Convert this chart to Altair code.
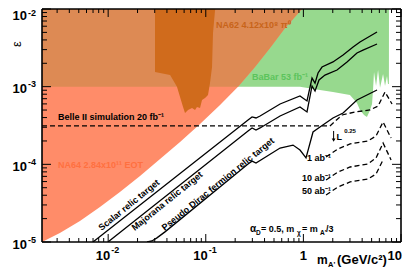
import altair as alt
import pandas as pd

X_MIN, X_MAX = 0.0021, 10.0
Y_MIN, Y_MAX = 1e-5, 1e-2
W, H = 359, 233

# ---------------- data ----------------
na64_m = [0.0021, 0.0032, 0.00514, 0.00824, 0.0132, 0.0212, 0.0340, 0.0545, 0.0873, 0.140, 0.214, 0.319, 0.455, 0.649, 0.968]
na64_eps = [1.0e-5, 1.31e-5, 1.86e-5, 2.82e-5, 4.41e-5, 7.08e-5, 1.17e-4, 1.94e-4, 3.31e-4, 5.81e-4, 1.0e-3, 1.79e-3, 3.15e-3, 5.69e-3, 1.0e-2]

na62_m = [0.0302, 0.0340, 0.0431, 0.0507, 0.0545, 0.0585, 0.0613, 0.0658, 0.0723, 0.0776, 0.0813, 0.0873, 0.0915, 0.0982, 0.1054, 0.1104, 0.1159, 0.1186, 0.1245]
na62_eps = [1.55e-3, 1.50e-3, 1.41e-3, 1.0e-3, 7.36e-4, 5.47e-4, 4.58e-4, 5.01e-4, 5.31e-4, 5.01e-4, 5.47e-4, 5.31e-4, 6.73e-4, 7.14e-4, 7.81e-4, 1.11e-3, 1.79e-3, 4.91e-3, 9.7e-3]

babar_m = [0.0021, 0.923, 1.479, 2.01, 3.00, 3.54, 3.80, 4.18, 4.48, 4.82, 5.05, 5.17, 5.29, 5.55, 5.82, 6.10, 6.55, 6.86, 7.19, 7.36, 7.52, 7.53]
babar_eps = [1e-3, 1e-3, 9.06e-4, 8.53e-4, 7.81e-4, 6.17e-4, 5.01e-4, 4.32e-4, 4.07e-4, 5.01e-4, 5.98e-4, 9.06e-4, 1.55e-3, 1.02e-3, 1.64e-3, 9.7e-4, 1.46e-3, 1.02e-3, 1.37e-3, 1.08e-3, 1.08e-3, 1e-2]

scalar_m = [0.00699, 0.271, 0.298, 0.327, 0.360, 0.577, 0.923, 1.089, 1.226, 1.316, 1.413, 1.552, 2.01, 2.55, 3.23, 3.80, 5.68]
scalar_eps = [1e-5, 3.73e-4, 4.07e-4, 3.95e-4, 4.19e-4, 5.98e-4, 7.59e-4, 6.54e-4, 1.29e-3, 1.11e-3, 1.50e-3, 1.79e-3, 2.08e-3, 2.56e-3, 3.24e-3, 3.76e-3, 5.06e-3]

major_m = [0.00995, 0.271, 0.298, 0.327, 0.360, 0.577, 0.923, 1.089, 1.226, 1.316, 1.446, 1.665, 2.21, 2.80, 3.54, 4.08, 5.68]
major_eps = [1e-5, 2.69e-4, 2.94e-4, 2.77e-4, 2.94e-4, 4.19e-4, 5.47e-4, 4.72e-4, 1.02e-3, 8.79e-4, 1.22e-3, 1.41e-3, 1.64e-3, 2.08e-3, 2.71e-3, 2.96e-3, 3.54e-3]

pdirac_m = [0.0250, 0.0281, 0.0316, 0.0382, 0.271, 0.298, 0.327, 0.577, 0.783, 0.923, 1.064, 1.255, 1.479, 2.01, 2.55, 3.54, 5.68]
pdirac_eps = [1e-5, 1.03e-5, 1.13e-5, 1.35e-5, 1.01e-4, 1.10e-4, 1.04e-4, 1.62e-4, 1.77e-4, 1.53e-4, 1.21e-4, 2.61e-4, 3.03e-4, 3.95e-4, 4.58e-4, 6.73e-4, 9.06e-4]

belle20_m = [0.0021, 1.87, 2.49, 3.38, 4.82, 5.82, 6.86, 8.09]
belle20_eps = [3.12e-4, 3.12e-4, 4.32e-4, 4.72e-4, 5.01e-4, 5.64e-4, 8.53e-4, 5.98e-4]

proj_m = [1.706, 2.26, 3.01, 4.59, 5.55, 6.55, 7.91]
ab1_eps = [1.24e-4, 1.58e-4, 1.83e-4, 2.00e-4, 2.32e-4, 3.51e-4, 2.18e-4]
ab10_eps = [6.28e-5, 7.96e-5, 9.24e-5, 1.01e-4, 1.21e-4, 1.88e-4, 1.14e-4]
ab50_m = [1.706, 2.26, 3.01, 4.59, 5.55, 6.55]
ab50_eps = [4.03e-5, 5.11e-5, 5.93e-5, 6.48e-5, 7.52e-5, 1.14e-4]

x_major = [0.01, 0.1, 1.0, 10.0]
x_minor = [k * 10.0 ** e for e in (-3, -2, -1, 0) for k in range(2, 10) if X_MIN < k * 10.0 ** e < X_MAX]
y_major = [1e-5, 1e-4, 1e-3, 1e-2]
y_minor = [k * 10.0 ** e for e in (-5, -4, -3) for k in range(2, 10)]

# ---------------- colours ----------------
C_SALMON = "#FF8C69"
C_BROWN = "#DD8A54"
C_SPIKE = "#D06B1C"
C_GREEN = "#97D98E"

xs = alt.Scale(type="log", domain=[X_MIN, X_MAX], nice=False)
ys = alt.Scale(type="log", domain=[Y_MIN, Y_MAX], nice=False)
FONT = "Liberation Sans"


def X(f="m"):
    return alt.X(f"{f}:Q", scale=xs, axis=None)


def Y(f="eps"):
    return alt.Y(f"{f}:Q", scale=ys, axis=None)


def area(m, lo, color):
    df = pd.DataFrame({"m": m, "eps": lo, "top": [Y_MAX] * len(m)})
    return alt.Chart(df).mark_area(color=color, clip=True, opacity=1).encode(
        x=X(), y=Y(), y2="top:Q")


def lines(series, dash=None):
    rows = []
    for name, ms, es in series:
        for i, (a, b) in enumerate(zip(ms, es)):
            rows.append({"s": name, "m": a, "eps": b, "i": i})
    kw = dict(color="black", strokeWidth=1.3, clip=True)
    if dash:
        kw["strokeDash"] = dash
    return alt.Chart(pd.DataFrame(rows)).mark_line(**kw).encode(
        x=X(), y=Y(), detail="s:N", order="i:Q")


layers = []
layers.append(area(babar_m, babar_eps, C_GREEN))
layers.append(area(na64_m, na64_eps, C_SALMON))
layers.append(area(na64_m, [max(e, 1e-3) for e in na64_eps], C_BROWN))
layers.append(area(na62_m, na62_eps, C_SPIKE))

layers.append(lines([("scalar", scalar_m, scalar_eps),
                     ("majorana", major_m, major_eps),
                     ("pdirac", pdirac_m, pdirac_eps)]))
layers.append(lines([("b20", belle20_m, belle20_eps),
                     ("ab1", proj_m, ab1_eps),
                     ("ab10", proj_m, ab10_eps),
                     ("ab50", ab50_m, ab50_eps)], dash=[5, 3]))

# ---------------- annotations in data coordinates ----------------
ann = pd.DataFrame([
    {"m": 0.00306, "eps": 4.07e-4, "t": "Belle II simulation 20 fb\u207b\u00b9", "c": "black", "al": "left"},
    {"m": 0.00306, "eps": 9.7e-5, "t": "NA64 2.84x10\u00b9\u00b9 EOT", "c": "#FF7040", "al": "left"},
    {"m": 0.127, "eps": 6.3e-3, "t": "NA62 4.12x10\u2078 \u03c0\u2070", "c": "#C8641A", "al": "left"},
    {"m": 0.298, "eps": 1.33e-3, "t": "BaBar 53 fb\u207b\u00b9", "c": "#5CC45C", "al": "left"},
    {"m": 1.92, "eps": 1.19e-4, "t": "1 ab\u207b\u00b9", "c": "black", "al": "right"},
    {"m": 1.92, "eps": 6.58e-5, "t": "10 ab\u207b\u00b9", "c": "black", "al": "right"},
    {"m": 1.92, "eps": 4.47e-5, "t": "50 ab\u207b\u00b9", "c": "black", "al": "right"},
])
for al in ("left", "right"):
    sub = ann[ann.al == al]
    layers.append(alt.Chart(sub).mark_text(align=al, baseline="middle", font=FONT, fontSize=9,
                                           fontWeight="bold").encode(
        x=X(), y=Y(), text="t:N", color=alt.Color("c:N", scale=None)))

rot = pd.DataFrame([
    {"m": 0.01633, "eps": 3.0e-5, "t": "Scalar relic target"},
    {"m": 0.0401, "eps": 3.37e-5, "t": "Majorana relic target"},
    {"m": 0.133, "eps": 5.58e-5, "t": "Pseudo Dirac fermion relic target"},
])
layers.append(alt.Chart(rot).mark_text(align="center", baseline="middle", angle=321, font=FONT,
                                       fontSize=9, fontWeight="bold", color="black").encode(
    x=X(), y=Y(), text="t:N"))

# L^0.25 arrow and label
arrow = pd.DataFrame({"m": [2.04], "e1": [2.69e-4], "e2": [2.05e-4]})
layers.append(alt.Chart(arrow).mark_rule(color="black", strokeWidth=1).encode(x=X(), y=Y("e1"), y2="e2:Q"))
layers.append(alt.Chart(arrow).mark_point(shape="triangle-down", size=14, filled=True, color="black",
                                          opacity=1).encode(x=X(), y=Y("e2")))
lum = pd.DataFrame([
    {"m": 2.19, "eps": 2.27e-4, "t": "L", "fs": 9},
    {"m": 2.62, "eps": 2.68e-4, "t": "0.25", "fs": 6},
])
layers.append(alt.Chart(lum).mark_text(align="left", baseline="middle", font=FONT, fontWeight="bold",
                                       color="black").encode(
    x=X(), y=Y(), text="t:N", size=alt.Size("fs:Q", scale=None)))

# alpha_D annotation (pixel layout)
alpha = pd.DataFrame([
    {"x": 208, "y": 223, "t": "\u03b1", "fs": 10},
    {"x": 214, "y": 226, "t": "D", "fs": 6.5},
    {"x": 219, "y": 223, "t": "= 0.5, m", "fs": 9},
    {"x": 255, "y": 226, "t": "\u03c7", "fs": 6.5},
    {"x": 260, "y": 223, "t": "= m", "fs": 9},
    {"x": 278, "y": 226, "t": "A'", "fs": 6.5},
    {"x": 284, "y": 223, "t": "/3", "fs": 9},
])
layers.append(alt.Chart(alpha).mark_text(align="left", baseline="alphabetic", font=FONT, fontWeight="bold",
                                         color="black").encode(
    x=alt.X("x:Q", scale=None), y=alt.Y("y:Q", scale=None), text="t:N", size=alt.Size("fs:Q", scale=None)))


# ---------------- ticks (inward, all four sides) ----------------
def xticks(vals, L):
    df = pd.DataFrame({"v": vals})
    b = alt.Chart(df).mark_rule(color="black", strokeWidth=1)
    return [b.encode(x=X("v"), y=alt.value(H), y2=alt.value(H - L)),
            b.encode(x=X("v"), y=alt.value(0), y2=alt.value(L))]


def yticks(vals, L):
    df = pd.DataFrame({"v": vals})
    b = alt.Chart(df).mark_rule(color="black", strokeWidth=1)
    return [b.encode(y=Y("v"), x=alt.value(0), x2=alt.value(L)),
            b.encode(y=Y("v"), x=alt.value(W), x2=alt.value(W - L))]


layers += xticks(x_major, 8) + xticks(x_minor, 4) + yticks(y_major, 9) + yticks(y_minor, 5)

# frame
frame = pd.DataFrame({"k": [0]})
fb = alt.Chart(frame).mark_rule(color="black", strokeWidth=1.6)
layers += [fb.encode(x=alt.value(0), x2=alt.value(W), y=alt.value(0)),
           fb.encode(x=alt.value(0), x2=alt.value(W), y=alt.value(H)),
           fb.encode(y=alt.value(0), y2=alt.value(H), x=alt.value(0)),
           fb.encode(y=alt.value(0), y2=alt.value(H), x=alt.value(W))]

# ---------------- tick labels ----------------
ylab = pd.DataFrame({"v": y_major, "base": ["10"] * 4, "exp": ["-5", "-4", "-3", "-2"]})
ylab_lo = ylab[ylab.v < 5e-3]
ylab_top = ylab[ylab.v > 5e-3]
for df, dyb, dye in ((ylab_lo, 2.5, -2.5), (ylab_top, 7, 3.5)):
    layers.append(alt.Chart(df).mark_text(align="right", baseline="middle", font=FONT, fontSize=13,
                                          fontWeight="bold", dy=dyb).encode(
        y=Y("v"), x=alt.value(-15), text="base:N"))
    layers.append(alt.Chart(df).mark_text(align="left", baseline="middle", font=FONT, fontSize=9,
                                          fontWeight="bold", dy=dye).encode(
        y=Y("v"), x=alt.value(-14), text="exp:N"))

xlab_e = pd.DataFrame({"v": [0.01, 0.1], "base": ["10", "10"], "exp": ["-2", "-1"]})
layers.append(alt.Chart(xlab_e).mark_text(align="right", baseline="middle", font=FONT, fontSize=13,
                                          fontWeight="bold", dx=2).encode(
    x=X("v"), y=alt.value(247), text="base:N"))
layers.append(alt.Chart(xlab_e).mark_text(align="left", baseline="middle", font=FONT, fontSize=9,
                                          fontWeight="bold", dx=3).encode(
    x=X("v"), y=alt.value(241), text="exp:N"))
xlab_1 = pd.DataFrame({"v": [1.0], "t": ["1"]})
layers.append(alt.Chart(xlab_1).mark_text(align="center", baseline="middle", font=FONT, fontSize=13,
                                          fontWeight="bold").encode(
    x=X("v"), y=alt.value(247), text="t:N"))
xlab_10 = pd.DataFrame({"v": [10.0], "t": ["10"]})
layers.append(alt.Chart(xlab_10).mark_text(align="right", baseline="middle", font=FONT, fontSize=13,
                                           fontWeight="bold", dx=1).encode(
    x=X("v"), y=alt.value(247), text="t:N"))

# ---------------- axis titles ----------------
titles = pd.DataFrame([
    {"x": 275, "y": 255, "t": "m", "fs": 12},
    {"x": 286, "y": 258, "t": "A'", "fs": 7.5},
    {"x": 295, "y": 255, "t": "(GeV/c\u00b2)", "fs": 13},
])
layers.append(alt.Chart(titles).mark_text(align="left", baseline="alphabetic", font=FONT, fontWeight="bold",
                                          color="black").encode(
    x=alt.X("x:Q", scale=None), y=alt.Y("y:Q", scale=None), text="t:N", size=alt.Size("fs:Q", scale=None)))
layers.append(alt.Chart(pd.DataFrame({"t": ["\u03b5"]})).mark_text(
    align="center", baseline="middle", angle=270, font=FONT, fontSize=13, color="black").encode(
    x=alt.value(-25), y=alt.value(35), text="t:N"))

chart = alt.layer(*layers).properties(
    width=W, height=H, autosize="none",
    padding={"left": 34, "top": 1, "right": 2, "bottom": 29},
).configure_view(stroke=None)

chart.save("out.html", embed_options={"renderer": "svg", "actions": False})
